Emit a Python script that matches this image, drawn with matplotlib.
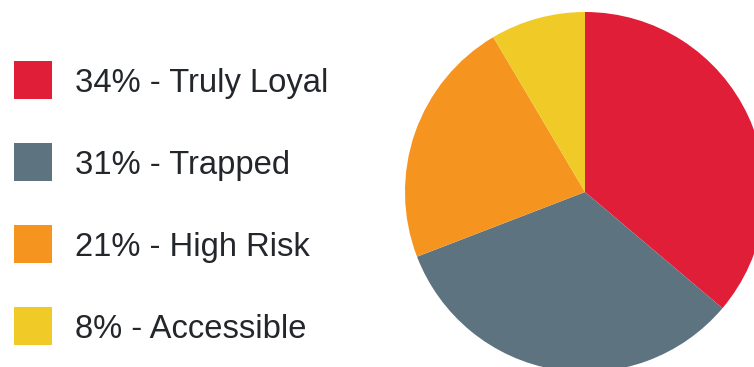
import matplotlib
matplotlib.use("Agg")
import matplotlib.pyplot as plt
from matplotlib.patches import Rectangle

# === DATA ===
segments = ["Truly Loyal", "Trapped", "High Risk", "Accessible"]
shares = [34, 31, 21, 8]
colors = ["#E01E38", "#5E7380", "#F69420", "#F0CB28"]

W, H = 754, 367
fig = plt.figure(figsize=(W / 100, H / 100), dpi=100)
fig.patch.set_facecolor("white")

# pie: centre (585, 192) px, radius 180 px
cx, cy, r = 585, 192, 180
ax = fig.add_axes([(cx - r) / W, (H - cy - r) / H, 2 * r / W, 2 * r / H])
ax.pie(shares, colors=colors, startangle=90, counterclock=False,
       radius=1, wedgeprops=dict(linewidth=0))
ax.set_xlim(-1, 1)
ax.set_ylim(-1, 1)
ax.set_aspect("equal")
ax.axis("off")

# legend drawn by hand
for i, (name, val, col) in enumerate(zip(segments, shares, colors)):
    top = 61 + i * 82
    fig.patches.append(Rectangle((14 / W, 1 - (top + 38) / H), 38 / W, 38 / H,
                                 transform=fig.transFigure, facecolor=col,
                                 edgecolor="none"))
    fig.text(75 / W, 1 - (top + 31) / H, f"{val}% - {name}",
             fontsize=23.6, family="Liberation Sans", color="#23272b",
             va="baseline", ha="left")

fig.savefig("out.png", dpi=100)
